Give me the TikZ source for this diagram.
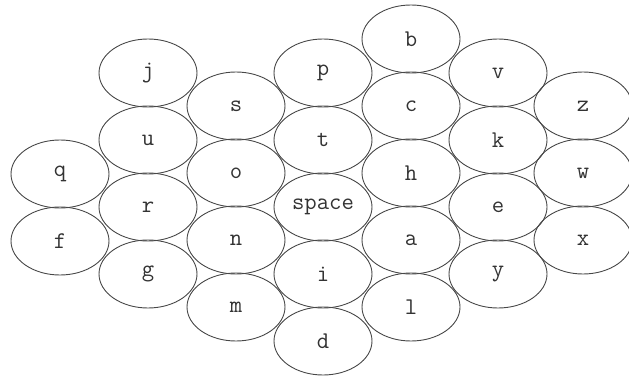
\documentclass[tikz,border=0pt]{standalone}
\usepackage{fontspec}
\usetikzlibrary{shapes.geometric}
\begin{document}
\begin{tikzpicture}[x=1pt,y=-1pt,
  cell/.style={ellipse,draw=black!72,line width=0.9pt,minimum width=98pt,minimum height=68pt,inner sep=0pt,font=\ttfamily\fontsize{24}{24}\selectfont,text=black!80}]
\useasboundingbox (0,0) rectangle (629,377);
\node[cell] (q) at (60,174) {q};
\node[cell] (f) at (60,241) {f};
\node[cell] (j) at (148,73) {j};
\node[cell] (u) at (148,140) {u};
\node[cell] (r) at (148,207) {r};
\node[cell] (g) at (148,274) {g};
\node[cell] (s) at (236,106) {s};
\node[cell] (o) at (236,173) {o};
\node[cell] (n) at (236,240) {n};
\node[cell] (m) at (236,307) {m};
\node[cell] (p) at (323,73) {p};
\node[cell] (t) at (323,140) {t};
\node[cell] (space) at (323,207) {space};
\node[cell] (i) at (323,274) {i};
\node[cell] (d) at (323,341) {d};
\node[cell] (b) at (411,39) {b};
\node[cell] (c) at (411,106) {c};
\node[cell] (h) at (411,173) {h};
\node[cell] (a) at (411,240) {a};
\node[cell] (l) at (411,307) {l};
\node[cell] (v) at (498,73) {v};
\node[cell] (k) at (498,140) {k};
\node[cell] (e) at (498,207) {e};
\node[cell] (y) at (498,274) {y};
\node[cell] (z) at (583,106) {z};
\node[cell] (w) at (583,173) {w};
\node[cell] (x) at (583,240) {x};
\end{tikzpicture}
\end{document}
